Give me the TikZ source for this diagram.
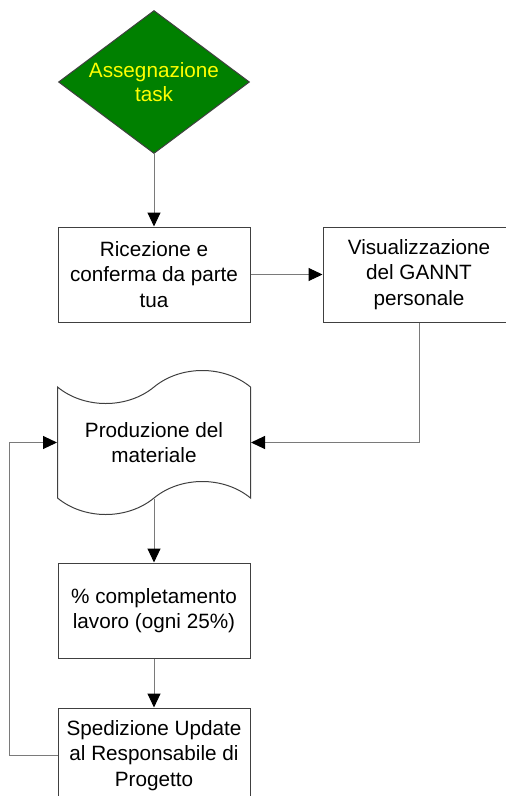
\documentclass[tikz,border=0pt]{standalone}
\usepackage{fontspec}
\setmainfont{Liberation Sans}
\usetikzlibrary{positioning, arrows.meta, shapes.geometric, shapes.symbols}
\definecolor{edgegray}{HTML}{404040}
\definecolor{linegray}{HTML}{7A7A7A}
\definecolor{taskgreen}{HTML}{008000}
\definecolor{taskyellow}{HTML}{FFFF00}
\tikzset{
block/.style={
  draw=edgegray,
  line width=1pt,
  rectangle,
  minimum height=95pt,
  minimum width=192pt, align=center,
  font=\fontsize{20.7pt}{25.5pt}\selectfont
  },
decision/.style={
  draw=edgegray, fill=taskgreen, text=taskyellow,
  line width=1pt,
  diamond, aspect=1.33, inner sep=0pt,
  minimum width=191pt, minimum height=143pt, align=center,
  font=\fontsize{20.7pt}{24pt}\selectfont
  },
tapebox/.style={
  draw=edgegray,
  line width=1pt,
  tape, tape bend height=33pt,
  minimum height=144pt,
  minimum width=193pt, align=center,
  font=\fontsize{20.7pt}{25.5pt}\selectfont
  },
line/.style={-{Triangle[length=14pt,width=13pt,color=black]}, draw=linegray, line width=1pt}
}
\begin{document}
\begin{tikzpicture}
\useasboundingbox (0,0) rectangle (506pt,-796pt);

\node[decision]	(assign)	at (154pt,-82pt)								{Assegnazione\\task};
\node[block]	(receive)	[below=72.5pt of assign]						{Ricezione e\\conferma da parte\\tua};
\node[block]	(gannt)		[right=72pt of receive]							{Visualizzazione\\del GANNT\\personale};
\node[tapebox]	(produce)	[below=168pt of receive.center, anchor=center]	{Produzione del\\materiale};
\node[block]	(progress)	[below=336pt of receive.center, anchor=center]	{\% completamento\\lavoro (ogni 25\%)};
\node[block]	(update)	[below=49pt of progress]						{Spedizione Update\\al Responsabile di\\Progetto};

\draw[line] (assign.south) -- (receive.north);
\draw[line] (receive.east) -- (gannt.west);
\draw[line] (gannt.south) |- (produce.east);
\draw[line] (produce.south) -- (progress.north);
\draw[line] (progress.south) -- (update.north);
\draw[line] (update.west) -- ++(-48pt,0) |- (produce.west);
\end{tikzpicture}
\end{document}
